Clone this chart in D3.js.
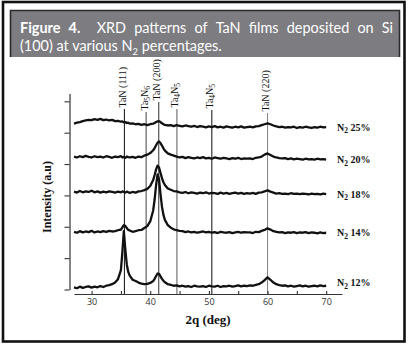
<!DOCTYPE html>
<html>
<head>
<meta charset="utf-8">
<script src="https://cdn.jsdelivr.net/npm/d3@7"></script>
<style>
  body { margin: 0; background: #fff; }
  svg { display: block; }
</style>
</head>
<body>
<div id="vis-container"></div>
<script>
const width = 410,
      height = 345;

// ******* Data *******
// 2theta sampling (deg), a bit finer around the TaN (111) / (200) peaks
var twoTheta = [
    27, 27.5, 28, 28.5, 29, 29.5, 30, 30.5, 31, 31.5, 32, 32.5, 33, 33.5, 34, 34.5,
    35, 35.25, 35.5, 35.75, 36, 36.25, 36.5, 37, 37.5, 38, 38.5, 39, 39.5, 40, 40.5,
    40.75, 41, 41.25, 41.5, 41.75, 42, 42.25, 42.5, 43,
    43.5, 44, 44.5, 45, 45.5, 46, 46.5, 47, 47.5, 48, 48.5, 49, 49.5, 50, 50.5, 51, 51.5, 52, 52.5, 53, 53.5, 54, 54.5, 55, 55.5, 56, 56.5,
    57, 57.5, 58, 58.5, 59, 59.5, 60, 60.5, 61, 61.5, 62, 62.5, 63, 63.5, 64, 64.5, 65, 65.5, 66, 66.5, 67, 67.5, 68, 68.5, 69, 69.5, 70
];

// intensities (a.u., stacked offsets included), one value per twoTheta
var n2_12 = [
    7, 4, 9, 5, 8, 10, 6, 9, 7, 11, 8, 12, 14, 17, 22, 33,
    62, 120, 186, 128, 80, 56, 44, 31, 27, 22, 19, 17, 18, 21, 27,
    34, 43, 51, 50, 42, 34, 28, 23, 17,
    15, 12, 13, 10, 12, 9, 11, 8, 12, 10, 9, 11, 8, 12, 10, 9, 12, 8, 11, 10, 12, 9, 11, 13, 10, 12, 11,
    13, 12, 15, 17, 22, 30, 39, 31, 22, 17, 14, 12, 13, 10, 12, 9, 11, 13, 10, 12, 9, 11, 12, 10, 13, 11, 12
];
var n2_14 = [
    184, 181, 186, 182, 185, 183, 187, 182, 185, 183, 186, 184, 187, 185, 186, 189,
    191, 198, 205, 203, 196, 190, 188, 184, 186, 189, 190, 196, 202, 217, 252,
    287, 333, 367, 351, 304, 264, 238, 222, 205,
    197, 192, 189, 187, 186, 183, 185, 182, 184, 181, 183, 185, 182, 184, 181, 183, 180, 184, 182, 181, 183, 180, 182, 184, 181, 183, 182,
    182, 180, 184, 183, 187, 190, 195, 191, 186, 184, 182, 183, 180, 182, 181, 183, 180, 182, 181, 183, 180, 182, 181, 179, 182, 180, 181
];
var n2_18 = [
    312, 309, 314, 310, 313, 311, 315, 310, 313, 309, 312, 310, 313, 311, 309, 312,
    310, 313, 311, 309, 312, 310, 308, 311, 309, 313, 314, 317, 321, 330, 349,
    365, 383, 395, 389, 372, 355, 342, 333, 322,
    318, 314, 313, 310, 308, 311, 307, 310, 308, 306, 309, 307, 310, 306, 308, 307, 305, 309, 306, 308, 305, 307, 309, 306, 308, 305, 307,
    306, 308, 305, 309, 310, 313, 316, 312, 309, 306, 307, 305, 306, 304, 307, 305, 306, 304, 306, 305, 303, 306, 304, 305, 303, 306, 304
];
var n2_20 = [
    424, 421, 425, 422, 426, 423, 421, 425, 422, 424, 421, 425, 423, 420, 424, 422,
    425, 421, 423, 420, 424, 422, 421, 423, 420, 424, 422, 427, 430, 435, 444,
    451, 460, 468, 472, 467, 459, 450, 443, 434,
    430, 427, 424, 421, 423, 419, 422, 420, 418, 421, 419, 422, 418, 420, 417, 421, 419, 417, 420, 418, 416, 419, 417, 420, 416, 418, 417,
    418, 416, 420, 421, 424, 430, 434, 429, 424, 421, 419, 418, 419, 416, 418, 415, 417, 416, 414, 417, 415, 416, 414, 417, 415, 416, 414
];
var n2_25 = [
    529, 532, 534, 537, 539, 541, 540, 543, 541, 544, 540, 542, 539, 541, 537, 538,
    535, 536, 533, 534, 531, 532, 529, 530, 527, 528, 525, 527, 524, 527, 529,
    531, 534, 536, 537, 534, 530, 527, 525, 523,
    524, 521, 524, 522, 520, 523, 521, 519, 522, 518, 521, 519, 517, 520, 518, 521, 517, 519, 516, 520, 518, 516, 519, 517, 520, 516, 518,
    519, 517, 520, 521, 524, 527, 530, 527, 523, 520, 518, 519, 516, 518, 517, 519, 515, 518, 516, 519, 517, 515, 518, 516, 519, 517, 518
];

var seriesLabels = ["N_2 25%", "N_2 20%", "N_2 18%", "N_2 14%", "N_2 12%"];
var seriesValues = [n2_25, n2_20, n2_18, n2_14, n2_12];

// reference phases ("_" marks a subscript digit)
var phaseLabels = ["TaN (111)", "Ta_5N_6", "TaN (200)", "Ta_4N_5", "Ta_4N_5", "TaN (220)"];
var phaseAngles = [35.6, 39.3, 41.45, 44.55, 50.5, 60.0];

var xTicks = [30, 35, 40, 45, 50, 55, 60, 65, 70];
var yTicks = [0, 100, 200, 300, 400, 500, 600];

// caption, first line is justified in the original
var captionWords = ["Figure", "4.", "XRD", "patterns", "of", "TaN", "films", "deposited", "on", "Si"];
var captionLine2 = "(100) at various N_2 percentages.";

// layout bits (not data)
var phaseLineTop = [109, 112, 102, 109, 110, 113];
var phaseColor = ["#222", "#555", "#444", "#666", "#222", "#888"];
var labelNudge = [3.5, 3.5, 3.5, 3.5, 0.5];

seriesValues.forEach(function(s, i) {
    if (s.length != twoTheta.length) console.log("length mismatch", seriesLabels[i], s.length);
});

// ******* Helpers *******
// writes "Ta_5N_6" as tspans with lowered subscripts
function richText(sel, str, subSize, shift) {
    var parts = str.split(/_(\d)/);
    parts.forEach(function(p, i) {
        if (p === "") return;
        var t = sel.append("tspan").text(p);
        if (i % 2 == 1) t.attr("font-size", subSize).attr("dy", shift);
        else if (i > 0) t.attr("dy", -shift);
    });
}

var svg = d3.select("#vis-container").append("svg")
    .attr("width", width)
    .attr("height", height);

svg.append("rect").attr("width", width).attr("height", height).attr("fill", "#fff");

// ******* Frame + caption *******
svg.append("rect")
    .attr("x", 3).attr("y", 2)
    .attr("width", 401.5).attr("height", 339.5)
    .attr("fill", "none").attr("stroke", "#111").attr("stroke-width", 2.6);

svg.append("rect")
    .attr("x", 10).attr("y", 10)
    .attr("width", 390).attr("height", 47)
    .attr("fill", "#7d7c81");
svg.append("path")
    .attr("d", "M10.5,57 V10.5 H399.5 V57")
    .attr("fill", "none").attr("stroke", "#2b2b2e").attr("stroke-width", 1.6);

var capFont = "Lato, 'Open Sans', sans-serif";

// line 2 sets the font size (its width in the original ~202px)
var cap2 = svg.append("text")
    .attr("x", 20).attr("y", 51)
    .attr("font-family", capFont)
    .attr("font-size", 15.5)
    .attr("fill", "#fff");
richText(cap2, captionLine2, 10, 4);
var capSize = 15.5 * 202 / cap2.node().getComputedTextLength();
cap2.attr("font-size", capSize);
cap2.select("tspan:nth-child(2)").attr("font-size", capSize * 0.65);

// line 1: words spread to the full 373px, double gap after "4."
var wordNodes = captionWords.map(function(w, i) {
    return svg.append("text")
        .attr("y", 33)
        .attr("font-family", capFont)
        .attr("font-size", capSize)
        .attr("font-weight", i < 2 ? "bold" : "normal")
        .attr("fill", "#fff")
        .text(w);
});
var widths = wordNodes.map(function(t) { return t.node().getComputedTextLength(); });
var gap = (373 - d3.sum(widths)) / captionWords.length; // one extra unit after "4."
var cx = 20;
wordNodes.forEach(function(t, i) {
    t.attr("x", cx);
    cx += widths[i] + gap * (i == 1 ? 2 : 1);
});

// ******* Scales *******
var x = d3.scaleLinear().domain([27, 72.7]).range([74, 342]);
var y = d3.scaleLinear().domain([0, 625]).range([289.5, 93.5]);

// ******* Phase reference lines *******
var phases = svg.append("g");
phaseAngles.forEach(function(a, i) {
    phases.append("line")
        .attr("x1", x(a)).attr("x2", x(a))
        .attr("y1", phaseLineTop[i]).attr("y2", 294)
        .attr("stroke", phaseColor[i]).attr("stroke-width", 1.1);
    var t = phases.append("text")
        .attr("transform", `translate(${x(a) + 1.5} ${phaseLineTop[i] - 1.5}) rotate(-90)`)
        .attr("font-family", "'Liberation Serif', 'Times New Roman', serif")
        .attr("font-size", 10)
        .attr("fill", "#111");
    richText(t, phaseLabels[i], 7.5, 2);
});

// ******* Axes *******
var yAxis = svg.append("g")
    .attr("transform", "translate(69.5 0)")
    .call(d3.axisLeft(y).tickValues(yTicks).tickSize(5).tickSizeOuter(0).tickFormat(""));

var xAxis = svg.append("g")
    .attr("transform", "translate(0 294)")
    .call(d3.axisBottom(x).tickValues(xTicks).tickSize(-3).tickSizeOuter(0).tickPadding(5)
        .tickFormat(function(d) { return d % 10 == 0 ? d : ""; }));

[yAxis, xAxis].forEach(function(g) {
    g.select(".domain").attr("stroke", "#333").attr("stroke-width", 1.2);
    g.selectAll(".tick line").attr("stroke", "#333").attr("stroke-width", 1.1);
    g.selectAll(".tick text")
        .attr("font-family", "'Open Sans', 'Noto Sans', sans-serif")
        .attr("font-size", 9)
        .attr("fill", "#333");
});

svg.append("text")
    .attr("x", 208).attr("y", 324)
    .attr("text-anchor", "middle")
    .attr("font-family", "'Liberation Serif', 'Times New Roman', serif")
    .attr("font-weight", "bold")
    .attr("font-size", 13)
    .attr("fill", "#111")
    .text("2q (deg)");

svg.append("text")
    .attr("transform", "translate(51 197) rotate(-90)")
    .attr("text-anchor", "middle")
    .attr("font-family", "'Liberation Serif', 'Times New Roman', serif")
    .attr("font-weight", "bold")
    .attr("font-size", 12)
    .attr("fill", "#111")
    .text("Intensity (a.u)");

// ******* Patterns *******
var line = d3.line()
    .x(function(d, i) { return x(twoTheta[i]); })
    .y(function(d) { return y(d); });

svg.append("g").selectAll("path")
    .data(seriesValues)
    .enter()
    .append("path")
    .attr("d", line)
    .attr("fill", "none")
    .attr("stroke", "#111")
    .attr("stroke-width", 2.3)
    .attr("stroke-linejoin", "round");

seriesValues.forEach(function(s, i) {
    var t = svg.append("text")
        .attr("x", 337)
        .attr("y", y(s[s.length - 1]) + labelNudge[i])
        .attr("font-family", "'Liberation Serif', 'Times New Roman', serif")
        .attr("font-weight", "bold")
        .attr("font-size", 10)
        .attr("fill", "#111");
    richText(t, seriesLabels[i], 7.5, 2.5);
});
</script>
</body>
</html>
